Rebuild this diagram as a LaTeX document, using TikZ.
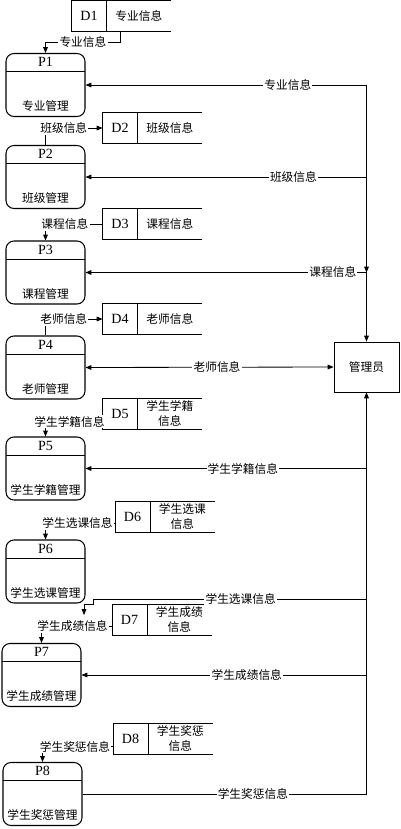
\documentclass[tikz,border=0pt]{standalone}
\usepackage{fontspec}
\setmainfont{Liberation Serif}
\newfontfamily\cjk{Noto Sans CJK SC}
\usetikzlibrary{arrows.meta,positioning,calc}

\begin{document}
\begin{tikzpicture}[
    x=0.03cm, y=-0.03cm,
    >={Triangle[length=5pt,width=4pt]},
    line width=0.7pt,
    proc/.style 2 args={draw, line width=0.9pt, rounded corners=0.24cm, minimum width=2.37cm, minimum height=1.89cm, inner sep=0pt,
        path picture={\draw[line width=0.7pt] ([yshift=-0.54cm]path picture bounding box.north west) -- ([yshift=-0.54cm]path picture bounding box.north east);},
        label={[tag]north:#1}, label={[pname]south:#2}},
    tag/.style={anchor=center, yshift=-0.27cm, inner sep=0pt, font=\large},
    pname/.style={anchor=center, yshift=0.33cm, inner sep=0pt, font=\cjk},
    dtag/.style={minimum width=1.02cm, minimum height=0.9cm, inner sep=0pt, font=\large},
    dname/.style={minimum width=1.92cm, minimum height=0.9cm, inner sep=0pt, align=center, font=\cjk},
    actor/.style={draw, minimum width=1.95cm, minimum height=1.5cm, font=\cjk},
    lbl/.style={fill=white, inner sep=1pt, font=\cjk},
    arrow/.style={->}
]
\useasboundingbox (0,0) rectangle (401,829);
% processes
\node[proc={P1}{专业管理}] (p1) at (45.5,85) {};
\node[proc={P2}{班级管理}] (p2) at (45.5,177) {};
\node[proc={P3}{课程管理}] (p3) at (45.5,272.5) {};
\node[proc={P4}{老师管理}] (p4) at (45.5,367.5) {};
\node[proc={P5}{学生学籍管理}] (p5) at (45.5,468.5) {};
\node[proc={P6}{学生选课管理}] (p6) at (45.5,571.5) {};
\node[proc={P7}{学生成绩管理}] (p7) at (41.5,675) {};
\node[proc={P8}{学生奖惩管理}] (p8) at (42.5,794) {};
\node[actor] (adm) at (366.5,367) {管理员};
% data stores
\node[dtag] (d1) at (89,16) {D1};
\node[dname, right=0pt of d1] (n1) {专业信息};
\node[dtag] (d2) at (120,128) {D2};
\node[dname, right=0pt of d2] (n2) {班级信息};
\node[dtag] (d3) at (120,224) {D3};
\node[dname, right=0pt of d3] (n3) {课程信息};
\node[dtag] (d4) at (120,319) {D4};
\node[dname, right=0pt of d4] (n4) {老师信息};
\node[dtag] (d5) at (120,413.5) {D5};
\node[dname, right=0pt of d5] (n5) {学生学籍\\信息};
\node[dtag] (d6) at (132.5,516.5) {D6};
\node[dname, right=0pt of d6] (n6) {学生选课\\信息};
\node[dtag] (d7) at (129.5,619.5) {D7};
\node[dname, right=0pt of d7] (n7) {学生成绩\\信息};
\node[dtag] (d8) at (130.5,738.5) {D8};
\node[dname, right=0pt of d8] (n8) {学生奖惩\\信息};
\foreach \i in {1,...,8}
  \draw (n\i.north east) -- (d\i.north west) -- (d\i.south west) -- (n\i.south east)
        (d\i.north east) -- (d\i.south east);
% store flows
\draw[arrow] ([xshift=0.42cm]d1.south east) |- node[lbl,pos=0.75]{专业信息} ($(p1.north)+(0,-11)$) -- (p1.north);
\draw[arrow] (p2.north) |- node[lbl,pos=0.66]{班级信息} (d2.west);
\draw[arrow] (d3.west) -| node[lbl,pos=0.33]{课程信息} (p3.north);
\draw[arrow] (p4.north) |- node[lbl,pos=0.66]{老师信息} (d4.west);
\draw[arrow] ([yshift=-0.24cm]d5.west) -| node[lbl,pos=0.29]{学生学籍信息} (p5.north);
\draw[arrow] ([yshift=-0.2cm]d6.west) -| node[lbl,pos=0.27]{学生选课信息} (p6.north);
\draw[arrow] ([yshift=-0.2cm]d7.west) -| node[lbl,pos=0.28]{学生成绩信息} (p7.north);
\draw[arrow] ([yshift=-0.25cm]d8.west) -| node[lbl,pos=0.27]{学生奖惩信息} (p8.north);
% administrator flows
\draw[arrow] (p1.east -| adm) -- (p3.east -| adm);
\draw[arrow] (p3.east -| adm) -- (adm.north);
\draw[arrow] (p1.east -| adm) -- node[lbl,pos=0.28]{专业信息} (p1.east);
\draw[arrow] (p2.east -| adm) -- node[lbl,pos=0.26]{班级信息} (p2.east);
\draw[arrow] (p3.east -| adm) -- node[lbl,pos=0.12]{课程信息} (p3.east);
\draw[<->] (p4.east) -- node[lbl,pos=0.53]{老师信息} (adm.west);
\draw[arrow] (p5.east -| adm) -- node[lbl,pos=0.44]{学生学籍信息} (p5.east);
\coordinate (bus6) at (366.5,599);
\coordinate (p6in) at (84,615);
\draw[arrow] (bus6) -- node[lbl,pos=0.46]{学生选课信息} ++(-273.5,0) -- ++(0,5) -- ++(-9,0) -- (p6in);
\draw[arrow] (p7.east -| adm) -- node[lbl,pos=0.42]{学生成绩信息} (p7.east);
\draw (p8.east) -- node[lbl,pos=0.6]{学生奖惩信息} (p8.east -| adm);
\draw[arrow] (p8.east -| adm) -- (adm.south);
\end{tikzpicture}
\end{document}
